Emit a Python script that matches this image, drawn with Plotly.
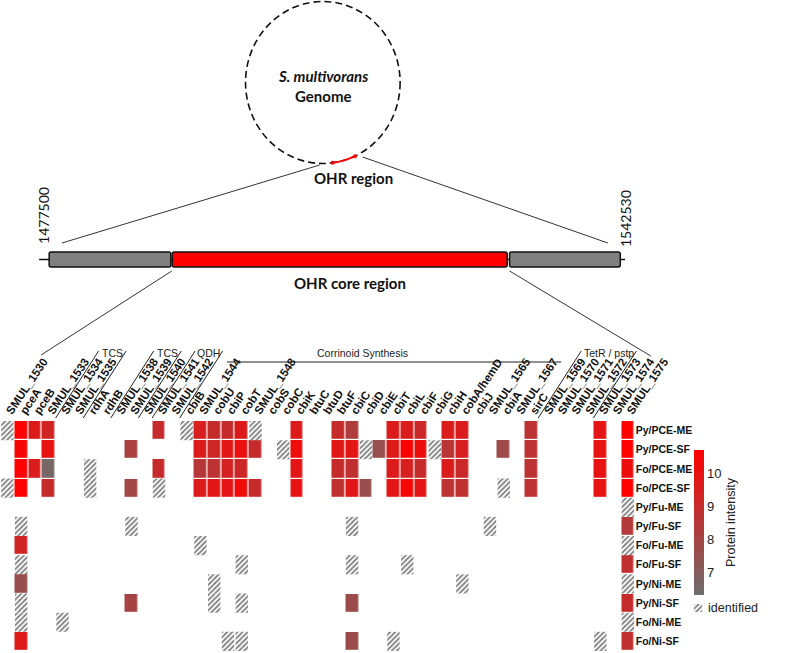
import math
import plotly.graph_objects as go

W, H = 787, 653

# ---------------- data ----------------
genes = ["SMUL_1530", "pceA", "pceB", "SMUL_1533", "SMUL_1534", "SMUL_1535", "rdhA", "rdhB",
         "SMUL_1538", "SMUL_1539", "SMUL_1540", "SMUL_1541", "SMUL_1542", "cbiB", "SMUL_1544",
         "cobU", "cbiP", "cobT", "SMUL_1548", "cobS", "cobC", "cbiK", "btuC", "btuD", "btuF",
         "cbiC", "cbiD", "cbiE", "cbiT", "cbiL", "cbiF", "cbiG", "cbiH", "cobA/hemD", "cbiJ",
         "SMUL_1565", "cbiA", "SMUL_1567", "sirC", "SMUL_1569", "SMUL_1570", "SMUL_1571",
         "SMUL_1572", "SMUL_1573", "SMUL_1574", "SMUL_1575"]

conditions = ["Py/PCE-ME", "Py/PCE-SF", "Fo/PCE-ME", "Fo/PCE-SF", "Py/Fu-ME", "Py/Fu-SF",
              "Fo/Fu-ME", "Fo/Fu-SF", "Py/Ni-ME", "Py/Ni-SF", "Fo/Ni-ME", "Fo/Ni-SF"]

# quantified protein intensities (log10) per condition
py_pce_me = {"pceA": 10.7, "pceB": 9.7, "SMUL_1533": 9.3, "SMUL_1541": 9.0, "SMUL_1544": 9.5,
             "cobU": 9.0, "cbiP": 9.0, "cobT": 9.7, "cbiK": 9.7, "btuF": 9.0, "cbiC": 8.3,
             "cbiT": 9.6, "cbiL": 9.6, "cbiF": 9.1, "cbiH": 9.6, "cobA/hemD": 9.6, "sirC": 8.7,
             "SMUL_1573": 9.9, "SMUL_1575": 10.7}
py_pce_sf = {"pceA": 10.5, "SMUL_1533": 10.0, "SMUL_1539": 8.1, "SMUL_1544": 9.6, "cobU": 9.2,
             "cbiP": 9.8, "cobT": 10.1, "SMUL_1548": 9.0, "cbiK": 10.2, "btuF": 9.8, "cbiC": 9.9,
             "cbiE": 7.5, "cbiT": 9.7, "cbiL": 10.6, "cbiF": 10.2, "cbiH": 8.6, "cobA/hemD": 9.5,
             "cbiA": 7.8, "sirC": 8.7, "SMUL_1573": 10.0, "SMUL_1575": 10.7}
fo_pce_me = {"pceA": 10.7, "pceB": 9.6, "SMUL_1533": 6.6, "SMUL_1541": 9.0, "SMUL_1544": 8.5,
             "cobU": 8.7, "cbiP": 9.4, "cobT": 9.2, "cbiK": 9.9, "btuF": 9.0, "cbiC": 8.8,
             "cbiT": 9.7, "cbiL": 9.5, "cbiF": 9.0, "cbiH": 9.6, "cobA/hemD": 9.1, "sirC": 8.7,
             "SMUL_1573": 10.0, "SMUL_1575": 10.2}
fo_pce_sf = {"pceA": 10.7, "SMUL_1533": 9.0, "SMUL_1539": 7.9, "SMUL_1544": 9.7, "cobU": 9.8,
             "cbiP": 9.9, "cobT": 10.3, "SMUL_1548": 9.0, "cbiK": 10.0, "btuF": 8.8, "cbiC": 9.8,
             "cbiD": 7.6, "cbiT": 9.9, "cbiL": 10.5, "cbiF": 9.9, "cbiH": 8.7, "cobA/hemD": 8.8,
             "sirC": 8.7, "SMUL_1573": 10.0, "SMUL_1575": 10.7}
py_fu_me = {}
py_fu_sf = {"SMUL_1575": 8.4}
fo_fu_me = {"pceA": 9.3}
fo_fu_sf = {"SMUL_1575": 8.8}
py_ni_me = {"pceA": 7.6}
py_ni_sf = {"SMUL_1539": 8.0, "cbiC": 7.7, "SMUL_1575": 9.0}
fo_ni_me = {}
fo_ni_sf = {"pceA": 9.7, "cbiC": 7.7, "SMUL_1575": 8.8}

# identified but not quantified (hatched)
id_py_pce_me = ["SMUL_1530", "cbiB", "SMUL_1548"]
id_py_pce_sf = ["cobC", "cbiD", "cbiG"]
id_fo_pce_me = ["rdhA"]
id_fo_pce_sf = ["SMUL_1530", "rdhA", "SMUL_1541", "cbiA"]
id_py_fu_me = ["SMUL_1575"]
id_py_fu_sf = ["pceA", "SMUL_1539", "cbiC", "SMUL_1565"]
id_fo_fu_me = ["SMUL_1544", "SMUL_1575"]
id_fo_fu_sf = ["pceA", "cobT", "cbiC", "cbiL"]
id_py_ni_me = ["cobU", "cobA/hemD", "SMUL_1575"]
id_py_ni_sf = ["pceA", "cobU", "cobT"]
id_fo_ni_me = ["pceA", "SMUL_1534", "SMUL_1575"]
id_fo_ni_sf = ["cbiP", "cobT", "cbiT", "SMUL_1573"]

intensity_rows = [py_pce_me, py_pce_sf, fo_pce_me, fo_pce_sf, py_fu_me, py_fu_sf,
                  fo_fu_me, fo_fu_sf, py_ni_me, py_ni_sf, fo_ni_me, fo_ni_sf]
identified_rows = [id_py_pce_me, id_py_pce_sf, id_fo_pce_me, id_fo_pce_sf, id_py_fu_me,
                   id_py_fu_sf, id_fo_fu_me, id_fo_fu_sf, id_py_ni_me, id_py_ni_sf,
                   id_fo_ni_me, id_fo_ni_sf]

# gene groups: (first gene, last gene, label)
slanted_groups = [("SMUL_1534", "SMUL_1535", "TCS"), ("SMUL_1538", "SMUL_1539", "TCS"),
                  ("SMUL_1541", "SMUL_1542", "QDH"), ("SMUL_1569", "SMUL_1572", "TetR / pstp")]
corrinoid_label = "Corrinoid Synthesis"

colorbar_ticks = [7, 8, 9, 10]
legend_label = "identified"
genome_start, genome_end = "1477500", "1542530"

# --------------- build ----------------
z = [[row.get(g) for g in genes] for row in intensity_rows]
hx, hbase = [], []
for r, ids in enumerate(identified_rows):
    for g in ids:
        hx.append(genes.index(g))
        hbase.append(r - 0.5)

FONT = "Liberation Sans, Arial, sans-serif"
CAL = "Lato, Open Sans, sans-serif"
PATTERN = dict(shape="/", fgcolor="#000", bgcolor="white", size=3.6, solidity=0.5)

grid_left, pitch = 0.5, 14.45
grid_right = grid_left + pitch * len(genes)
grid_top, grid_bottom = 421, 651

fig = go.Figure()
fig.add_trace(go.Heatmap(
    z=z, x=list(range(len(genes))), y=list(range(len(conditions))),
    zmin=6.3, zmax=10.73,
    colorscale=[[0, "#6e6e6e"], [1, "#ff0000"]],
    xgap=1.2, ygap=1.2, hoverongaps=False,
    colorbar=dict(x=727 / W, xanchor="left", y=1 - 522.5 / H, yanchor="middle",
                  len=145 / H, lenmode="fraction", thickness=10, outlinewidth=0, ypad=0,
                  xpad=0, tickvals=colorbar_ticks, ticks="", ticklabelposition="outside",
                  tickfont=dict(size=13, color="#222"),
                  title=dict(text="Protein intensity", side="right",
                             font=dict(size=12.5, color="#222"))),
))
fig.add_trace(go.Bar(
    x=hx, y=[1] * len(hx), base=hbase, width=0.9, showlegend=False,
    marker=dict(color="white", line=dict(width=0), pattern=PATTERN),
))
# legend swatch for "identified"
fig.add_trace(go.Bar(
    x=[0], y=[1], width=1, showlegend=False, xaxis="x3", yaxis="y3",
    marker=dict(color="white", line=dict(width=0), pattern=PATTERN),
))

fig.update_layout(
    width=W, height=H, margin=dict(l=0, r=0, t=0, b=0),
    paper_bgcolor="white", plot_bgcolor="white", font=dict(family=FONT, color="#111"),
    barmode="overlay", showlegend=False,
    xaxis=dict(domain=[grid_left / W, grid_right / W], range=[-0.5, len(genes) - 0.5],
               side="top", tickvals=list(range(len(genes))),
               ticktext=[f"<b>{g}</b>" for g in genes],
               tickangle=-56, tickfont=dict(size=11.5, color="#111"), showgrid=False,
               zeroline=False, showline=False, ticks="", fixedrange=True),
    yaxis=dict(domain=[(H - grid_bottom) / H, (H - grid_top) / H],
               range=[len(conditions) - 0.5, -0.5], side="right",
               tickvals=list(range(len(conditions))),
               ticktext=[f"<b>{c}</b>" for c in conditions],
               tickfont=dict(size=10.5, color="#111"), showgrid=False, zeroline=False,
               showline=False, ticks="", fixedrange=True),
    xaxis3=dict(domain=[727 / W, 736 / W], range=[-0.5, 0.5], visible=False,
                anchor="y3", fixedrange=True),
    yaxis3=dict(domain=[1 - 612 / H, 1 - 604 / H], range=[0, 1], visible=False,
                anchor="x3", fixedrange=True),
)


def P(x, y):
    return x / W, 1 - y / H


shapes = []


def line(x0, y0, x1, y1, color="#333", width=1, dash=None):
    a, b = P(x0, y0)
    c, d = P(x1, y1)
    ln = dict(color=color, width=width)
    if dash:
        ln["dash"] = dash
    shapes.append(dict(type="line", xref="paper", yref="paper", x0=a, y0=b, x1=c, y1=d, line=ln))


def rrect(x0, y0, x1, y1, fill, r=2):
    pts = [("M", x0 + r, y0), ("L", x1 - r, y0), ("Q", x1, y0, x1, y0 + r), ("L", x1, y1 - r),
           ("Q", x1, y1, x1 - r, y1), ("L", x0 + r, y1), ("Q", x0, y1, x0, y1 - r),
           ("L", x0, y0 + r), ("Q", x0, y0, x0 + r, y0)]
    s = ""
    for p in pts:
        if p[0] == "Q":
            a, b = P(p[1], p[2]); c, d = P(p[3], p[4])
            s += f"Q{a:.5f},{b:.5f} {c:.5f},{d:.5f} "
        else:
            a, b = P(p[1], p[2])
            s += f"{p[0]}{a:.5f},{b:.5f} "
    shapes.append(dict(type="path", xref="paper", yref="paper", path=s + "Z",
                       fillcolor=fill, line=dict(color="#111", width=1.5)))


# genome circle
cx, cy, R = 338.3, 82.5, 81
a, b = P(cx - R, cy + R)
c, d = P(cx + R, cy - R)
shapes.append(dict(type="circle", xref="paper", yref="paper", x0=a, y0=b, x1=c, y1=d,
                   line=dict(color="#111", width=1.6, dash="7px,4px")))
# red OHR arc
t1, t2 = math.radians(82.8), math.radians(65.4)
p1 = (cx + R * math.cos(t1), cy + R * math.sin(t1))
p2 = (cx + R * math.cos(t2), cy + R * math.sin(t2))
tm = (t1 + t2) / 2
rc = R / math.cos((t1 - t2) / 2)
pc = (cx + rc * math.cos(tm), cy + rc * math.sin(tm))
A, B, C = P(*p1), P(*pc), P(*p2)
shapes.append(dict(type="path", xref="paper", yref="paper",
                   path=f"M{A[0]:.5f},{A[1]:.5f} Q{B[0]:.5f},{B[1]:.5f} {C[0]:.5f},{C[1]:.5f}",
                   line=dict(color="#ff0000", width=2)))
for (px, py) in (p1, p2):
    a, b = P(px - 2, py + 2)
    c, d = P(px + 2, py - 2)
    shapes.append(dict(type="circle", xref="paper", yref="paper", x0=a, y0=b, x1=c, y1=d,
                       fillcolor="#ff0000", line=dict(color="#ff0000", width=0)))

# zoom lines
line(335, 165, 65, 243)
line(380, 157, 637, 243)
line(180, 271, 43, 355)
line(534, 271, 682, 356)

# OHR bar
line(41, 259.5, 655, 259.5, color="#111", width=1.5)
rrect(51.5, 252, 179, 267, "#808080")
rrect(180.5, 252, 531.5, 267, "#ff0000")
rrect(534, 252, 650, 267, "#808080")


def col_edge(i):
    return grid_left + pitch * i


annotations = []


def text(x, y, s, size=12, family=FONT, angle=0, color="#111", xanchor="center"):
    a, b = P(x, y)
    annotations.append(dict(x=a, y=b, xref="paper", yref="paper", text=s, showarrow=False,
                            font=dict(size=size, family=family, color=color), textangle=angle,
                            xanchor=xanchor, yanchor="middle"))


# gene group brackets (slanted parallel to the tick labels)
for g0, g1, lab in slanted_groups:
    e0 = col_edge(genes.index(g0))
    e1 = col_edge(genes.index(g1) + 1)
    for x in (e0, e1):
        line(x, 418, x + 45, 351, color="#222", width=1)
    text((e0 + e1) / 2 + 45, 353, lab, size=10.5, color="#222")
line(238, 362, 588, 362, color="#222", width=1.2)
text(380, 353, corrinoid_label, size=10.5, color="#222")

text(338, 76, "<b><i>S. multivorans</i></b>", size=15, family=CAL)
text(338, 96, "<b>Genome</b>", size=15, family=CAL)
text(370, 178, "<b>OHR region</b>", size=15, family=CAL)
text(367, 283, "<b>OHR core region</b>", size=15, family=CAL)
text(45, 215, genome_start, size=14, family=CAL, angle=-90)
text(655, 219, genome_end, size=14, family=CAL, angle=-90)
text(740, 608, legend_label, size=12.5, color="#222", xanchor="left")

fig.update_layout(shapes=shapes, annotations=annotations)
fig.write_html("out.html", config={"displayModeBar": False},
               post_script="document.body.style.margin='0';document.body.style.overflow='hidden';")
